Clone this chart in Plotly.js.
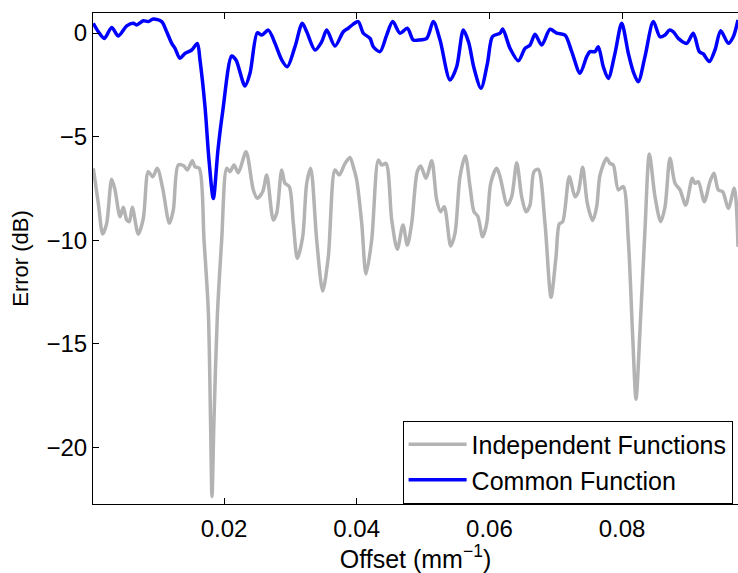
<!DOCTYPE html>
<html>
<head>
<meta charset="utf-8">
<script src="https://cdn.plot.ly/plotly-3.0.1.min.js"></script>
<style>html,body{margin:0;padding:0;background:#fff;}#chart{width:738px;height:573px;}</style>
</head>
<body>
<div id="chart"></div>
<script>
// Independent Functions (grey)
var greyX = [0.00030,0.00106,0.00172,0.00232,0.00307,0.00357,0.00433,0.00482,0.00534,0.00573,0.00618,0.00708,0.00784,0.00859,0.00925,0.00995,0.01076,0.01176,0.01236,0.01311,0.01397,0.01447,0.01522,0.01563,0.01628,0.01699,0.01763,0.01797,0.01819,0.01849,0.01899,0.01965,0.02041,0.02090,0.02151,0.02216,0.02332,0.02442,0.02502,0.02583,0.02644,0.02743,0.02794,0.02870,0.02919,0.02984,0.03045,0.03105,0.03186,0.03247,0.03307,0.03397,0.03488,0.03572,0.03673,0.03738,0.03824,0.03899,0.03949,0.04000,0.04076,0.04140,0.04226,0.04326,0.04377,0.04442,0.04528,0.04612,0.04698,0.04763,0.04829,0.04913,0.04965,0.05045,0.05131,0.05206,0.05266,0.05320,0.05417,0.05482,0.05557,0.05637,0.05708,0.05768,0.05824,0.05899,0.05960,0.06020,0.06110,0.06160,0.06270,0.06336,0.06412,0.06487,0.06552,0.06612,0.06672,0.06737,0.06838,0.06929,0.07004,0.07054,0.07105,0.07204,0.07290,0.07340,0.07406,0.07476,0.07557,0.07617,0.07667,0.07768,0.07818,0.07868,0.07943,0.08018,0.08094,0.08160,0.08210,0.08270,0.08345,0.08411,0.08496,0.08582,0.08647,0.08722,0.08798,0.08873,0.08959,0.09058,0.09099,0.09149,0.09239,0.09325,0.09385,0.09450,0.09517,0.09601,0.09691,0.09747];
var greyY = [-6.53,-8.22,-9.70,-9.18,-7.06,-7.57,-8.86,-8.41,-9.02,-9.10,-8.41,-9.70,-8.94,-6.69,-6.93,-6.53,-7.49,-9.18,-8.54,-6.37,-6.42,-6.61,-6.16,-6.45,-6.53,-9.99,-13.36,-18.67,-22.36,-18.67,-13.69,-9.99,-6.53,-6.69,-6.37,-6.74,-5.73,-7.57,-7.97,-7.66,-6.85,-9.02,-8.70,-6.61,-7.25,-7.41,-9.18,-10.87,-9.83,-7.25,-6.53,-9.99,-12.45,-10.79,-6.61,-6.85,-6.29,-6.00,-6.45,-7.09,-9.18,-11.63,-9.99,-6.13,-6.37,-6.29,-9.02,-10.43,-9.26,-10.23,-9.18,-6.69,-6.42,-7.01,-6.16,-8.06,-8.62,-8.38,-10.27,-9.66,-6.93,-5.93,-7.41,-8.62,-8.83,-9.83,-9.18,-7.25,-6.53,-6.93,-8.30,-7.90,-6.26,-7.90,-8.62,-8.30,-6.69,-6.58,-9.18,-12.75,-10.79,-9.21,-9.10,-6.93,-7.90,-7.66,-6.48,-8.22,-9.05,-8.38,-6.85,-6.04,-6.29,-6.37,-7.57,-7.41,-9.99,-14.65,-17.67,-14.33,-9.50,-5.84,-7.90,-9.10,-8.38,-6.04,-7.25,-7.57,-8.30,-7.01,-7.25,-7.17,-8.14,-7.17,-6.77,-7.57,-7.66,-8.46,-7.49,-10.31];

// Common Function (blue)
var blueX = [0.00030,0.00106,0.00196,0.00307,0.00407,0.00534,0.00633,0.00684,0.00784,0.00859,0.00934,0.01061,0.01136,0.01212,0.01262,0.01337,0.01412,0.01513,0.01598,0.01638,0.01714,0.01774,0.01839,0.01909,0.01980,0.02116,0.02181,0.02317,0.02392,0.02502,0.02568,0.02668,0.02769,0.02870,0.02954,0.03070,0.03180,0.03247,0.03372,0.03473,0.03548,0.03673,0.03798,0.03873,0.03949,0.04024,0.04100,0.04201,0.04250,0.04351,0.04452,0.04543,0.04653,0.04763,0.04853,0.04929,0.05055,0.05155,0.05256,0.05406,0.05507,0.05607,0.05688,0.05768,0.05873,0.05971,0.06047,0.06160,0.06201,0.06311,0.06436,0.06537,0.06612,0.06688,0.06788,0.06914,0.07015,0.07140,0.07241,0.07366,0.07467,0.07516,0.07592,0.07642,0.07717,0.07792,0.07893,0.07994,0.08094,0.08169,0.08244,0.08345,0.08471,0.08571,0.08647,0.08712,0.08772,0.08847,0.08974,0.09073,0.09164,0.09224,0.09315,0.09400,0.09486,0.09601,0.09676,0.09747];
var blueY = [0.47,0.06,-0.26,0.27,-0.14,0.34,0.47,0.39,0.59,0.55,0.68,0.55,0.06,-0.50,-0.74,-1.22,-0.98,-0.82,-0.50,-1.30,-3.56,-6.13,-7.98,-5.64,-3.80,-1.11,-1.30,-2.56,-1.94,0.01,-0.10,0.14,-0.50,-1.30,-1.63,-0.66,0.47,0.06,-0.82,-0.42,0.14,-0.63,0.06,0.23,0.43,0.55,-0.01,-0.26,-0.66,-0.90,-0.10,0.55,-0.01,0.23,-0.34,-0.34,-0.26,0.55,-0.34,-2.27,-1.63,0.14,-0.46,-1.69,-2.67,-1.45,-0.17,-0.01,0.19,-0.74,-1.34,-0.74,-0.58,-0.06,-0.58,0.18,-0.01,-0.10,-0.90,-1.94,-1.14,-0.90,-0.90,-0.66,-1.63,-2.19,-0.98,0.47,-0.98,-1.87,-2.35,-1.14,0.55,-0.18,-0.10,0.14,0.06,-0.26,-0.50,-0.01,-0.90,-1.01,-1.38,-0.82,0.11,-0.50,-0.18,0.63];

var xTickVals = [0.02,0.04,0.06,0.08];
var xTickText = ['0.02','0.04','0.06','0.08'];
var yTickVals = [0,-5,-10,-15,-20];
var yTickText = ['0','\u22125','\u221210','\u221215','\u221220'];

var traces = [
  {x: greyX, y: greyY, type:'scatter', mode:'lines', name:'Independent Functions',
   line:{color:'#b3b3b3', width:3.5, shape:'spline', smoothing:0.8}},
  {x: blueX, y: blueY, type:'scatter', mode:'lines', name:'Common Function',
   line:{color:'#0000ff', width:3.5, shape:'spline', smoothing:0.8}}
];

var fam = 'Liberation Sans, Arial, Helvetica, sans-serif';
var layout = {
  width:738, height:573,
  margin:{l:93, r:0, t:13, b:69, pad:0},
  paper_bgcolor:'#ffffff', plot_bgcolor:'#ffffff',
  font:{family:fam, color:'#000000', size:24},
  showlegend:true,
  xaxis:{
    range:[0.000256, 0.09747], tickmode:'array', tickvals:xTickVals, ticktext:xTickText,
    ticks:'inside', ticklen:6, tickwidth:1, tickcolor:'#000000',
    showline:true, linecolor:'#000000', linewidth:1, mirror:'ticks',
    showgrid:false, zeroline:false, tickfont:{size:24, family:fam},
    ticklabelstandoff:3,
    title:{text:'Offset (mm<sup>\u22121</sup>)', font:{size:25, family:fam}, standoff:10},
    automargin:false
  },
  yaxis:{
    range:[-22.72, 0.965], tickmode:'array', tickvals:yTickVals, ticktext:yTickText,
    ticks:'inside', ticklen:6, tickwidth:1, tickcolor:'#000000',
    showline:true, linecolor:'#000000', linewidth:1, mirror:false,
    showgrid:false, zeroline:false, tickfont:{size:24, family:fam},
    title:{text:'Error (dB)', font:{size:22, family:fam}, standoff:11},
    automargin:false
  },
  legend:{x:0.48, y:0.170, xanchor:'left', yanchor:'top', bgcolor:'#ffffff',
    bordercolor:'#000000', borderwidth:1, font:{size:25, family:fam}, tracegroupgap:0,
    itemwidth:58}
};

Plotly.newPlot('chart', traces, layout, {displayModeBar:false, staticPlot:true});
</script>
</body>
</html>
